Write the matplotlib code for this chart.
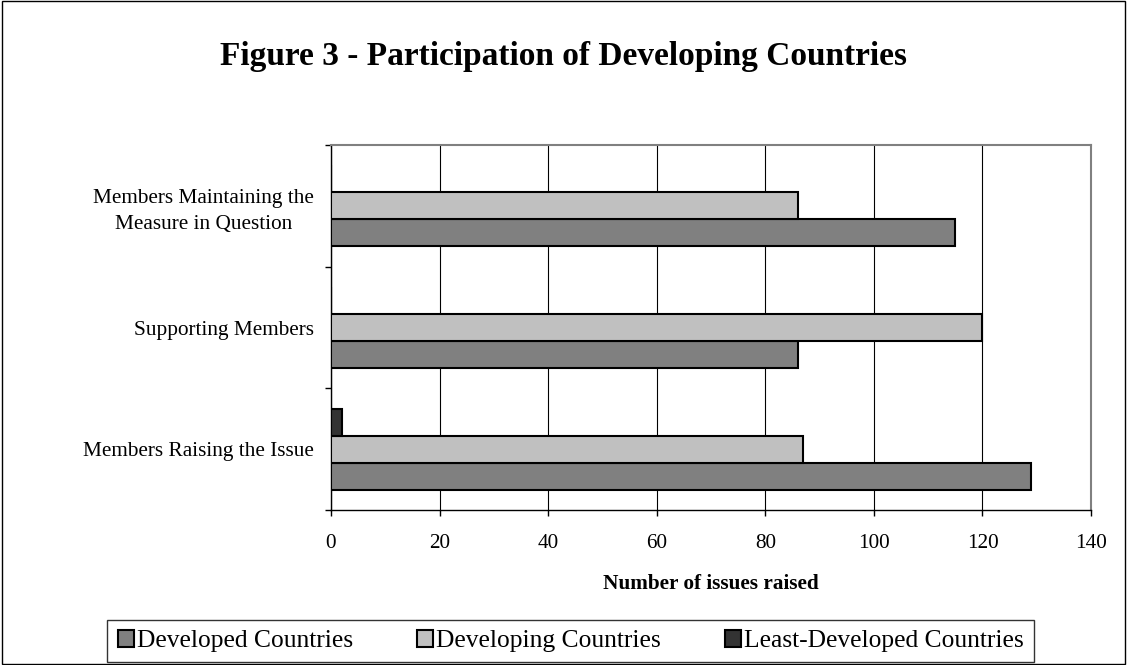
import matplotlib
matplotlib.use("Agg")
import matplotlib.pyplot as plt
from matplotlib.patches import Rectangle
import numpy as np

plt.rcParams['font.family'] = ['Liberation Serif', 'DejaVu Serif']

# Data
categories = ["Members Raising the Issue",
              "Supporting Members",
              "Members Maintaining the\nMeasure in Question"]
series_names = ["Developed Countries", "Developing Countries",
                "Least-Developed Countries"]
developed = [129, 86, 115]
developing = [87, 120, 86]
least_developed = [2, 0, 0]
x_ticks = [0, 20, 40, 60, 80, 100, 120, 140]

colors = ["#808080", "#C0C0C0", "#333333"]

W, H = 1127, 665
fig = plt.figure(figsize=(W / 100, H / 100), dpi=100)
fig.patch.set_facecolor("white")

ax = fig.add_axes([331 / W, 1 - 510 / H, 760 / W, 365 / H])

y = np.arange(len(categories))
h = 0.222
values = [developed, developing, least_developed]
offsets = [-h, 0.0, h]
for vals, off, col, name in zip(values, offsets, colors, series_names):
    ax.barh(y + off, vals, height=h, color=col, edgecolor="black",
            linewidth=1.5, label=name, zorder=3)

ax.set_xlim(0, 140)
ax.set_ylim(-0.5, len(categories) - 0.5)
ax.set_xticks(x_ticks)
ax.set_xticklabels([str(t) for t in x_ticks], fontsize=15.3)
ax.xaxis.grid(True, color="black", linewidth=0.8, zorder=0)
ax.set_axisbelow(True)

# category ticks at group boundaries, labels at group centres
ax.set_yticks(np.arange(-0.5, len(categories), 1.0))
ax.set_yticklabels([])
ax.set_yticks(y, minor=True)
ax.set_yticklabels(categories, minor=True, fontsize=15.3,
                   multialignment="center", linespacing=1.5)
ax.tick_params(axis="y", which="minor", length=0, pad=12.2)
ax.tick_params(axis="y", which="major", length=4.5, width=1, direction="out")
ax.tick_params(axis="x", length=4.5, width=1, direction="out", pad=13)

ax.set_xlabel("Number of issues raised", fontsize=15.3, fontweight="bold",
              labelpad=15)

for side in ("top", "right"):
    ax.spines[side].set_color("#808080")
    ax.spines[side].set_linewidth(1.5)
for side in ("left", "bottom"):
    ax.spines[side].set_color("black")
    ax.spines[side].set_linewidth(1.0)

fig.text(564 / W, 1 - 56 / H,
         "Figure 3 - Participation of Developing Countries",
         ha="center", va="center", fontsize=24, fontweight="bold")

handles, labels = ax.get_legend_handles_labels()
leg = fig.legend(handles, labels, loc="center",
                 bbox_to_anchor=(570.5 / W, 1 - 641 / H),
                 ncol=3, fontsize=18.4, frameon=True, fancybox=False,
                 edgecolor="black", handlelength=0.65, handleheight=0.65,
                 handletextpad=0.1, columnspacing=2.5, borderpad=0.4,
                 borderaxespad=0)
leg.get_frame().set_linewidth(1.0)

# outer chart border
fig.patches.append(Rectangle((0.0015, 0.0015), 0.997, 0.997,
                             transform=fig.transFigure, fill=False,
                             edgecolor="black", linewidth=1.0))

fig.savefig("out.png", dpi=100, facecolor="white")
